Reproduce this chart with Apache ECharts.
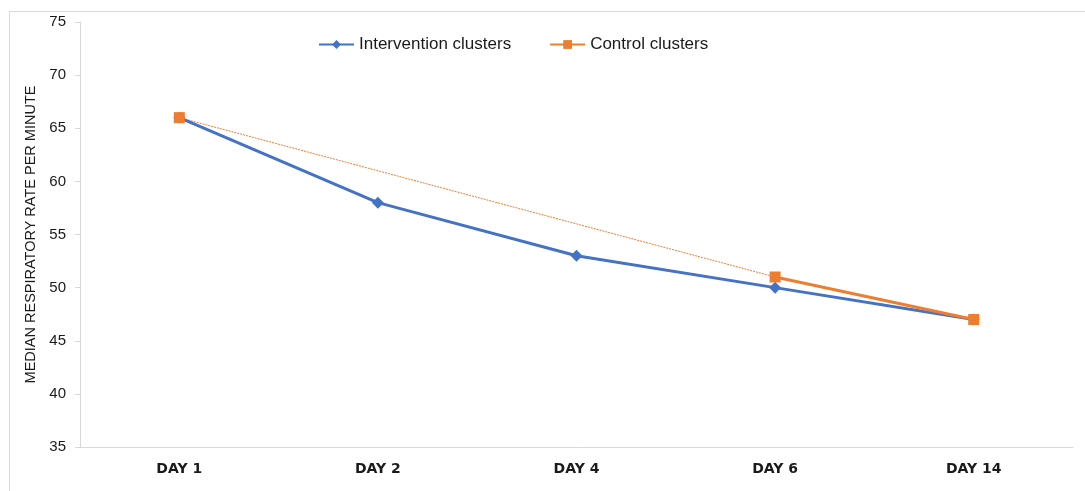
<!DOCTYPE html>
<html>
<head>
<meta charset="utf-8">
<script src="https://cdn.jsdelivr.net/npm/echarts@6/dist/echarts.min.js"></script>
<style>
html,body{margin:0;padding:0;background:#fff;}
#chart{width:1085px;height:491px;}
</style>
</head>
<body>
<div id="chart"></div>
<script>
const categories = ['DAY 1', 'DAY 2', 'DAY 4', 'DAY 6', 'DAY 14'];
const interventionValues = [66, 58, 53, 50, 47];
const controlValues = [66, null, null, 51, 47];
const yTicks = [35, 40, 45, 50, 55, 60, 65, 70, 75];

const chart = echarts.init(document.getElementById('chart'));
chart.setOption({
  animation: false,
  backgroundColor: '#fff',
  graphic: [{
    type: 'rect',
    shape: { x: 9.5, y: 11.5, width: 1100, height: 500 },
    style: { fill: 'none', stroke: '#d9d9d9', lineWidth: 1 },
    silent: true, z: -1
  }],
  grid: { left: 80, right: 12, top: 22, bottom: 44 },
  legend: {
    data: ['Intervention clusters', 'Control clusters'],
    left: 313, top: 31,
    itemWidth: 35, itemHeight: 11, itemGap: 38,
    textStyle: { fontFamily: 'Liberation Sans', fontSize: 17, color: '#1a1a1a' }
  },
  xAxis: {
    type: 'category',
    data: categories,
    boundaryGap: true,
    axisLine: { lineStyle: { color: '#d9d9d9', width: 1 } },
    axisTick: { show: false },
    axisLabel: { fontFamily: 'DejaVu Sans', fontWeight: 'bold', fontSize: 14, color: '#1a1a1a', margin: 15 }
  },
  yAxis: {
    type: 'value',
    min: yTicks[0], max: yTicks[yTicks.length - 1], interval: 5,
    name: 'MEDIAN RESPIRATORY RATE PER MINUTE',
    nameLocation: 'middle', nameGap: 42,
    nameTextStyle: { fontFamily: 'Liberation Sans', fontSize: 14.5, color: '#1a1a1a' },
    axisLine: { show: true, lineStyle: { color: '#d9d9d9', width: 1 } },
    axisTick: { show: true, length: 5, lineStyle: { color: '#d9d9d9' } },
    splitLine: { show: false },
    axisLabel: { fontFamily: 'Liberation Sans', fontSize: 15, color: '#1a1a1a', margin: 14 }
  },
  series: [
    {
      name: 'Intervention clusters',
      type: 'line',
      data: interventionValues,
      color: '#4472C4',
      lineStyle: { width: 3, color: '#4472C4' },
      symbol: 'diamond', symbolSize: 12,
      itemStyle: { color: '#4472C4' },
      z: 2
    },
    {
      name: 'control-gap',
      type: 'line',
      data: controlValues,
      connectNulls: true,
      showSymbol: false, symbol: 'none',
      lineStyle: { width: 1, color: '#ED7D31', type: [2, 1] },
      z: 1
    },
    {
      name: 'Control clusters',
      type: 'line',
      data: controlValues,
      connectNulls: false,
      color: '#ED7D31',
      lineStyle: { width: 3, color: '#ED7D31' },
      symbol: 'rect', symbolSize: 11,
      itemStyle: { color: '#ED7D31' },
      z: 3
    }
  ]
});
</script>
</body>
</html>
